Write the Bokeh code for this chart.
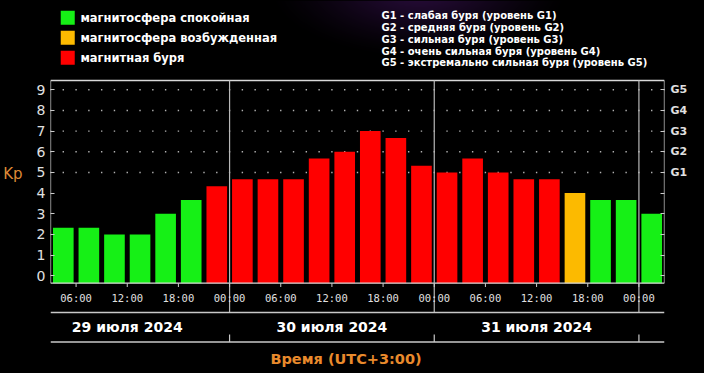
import numpy as np
from bokeh.plotting import figure
from bokeh.models import Range1d, LinearAxis, FixedTicker
from bokeh.core.properties import value
from bokeh.embed import file_html
from bokeh.resources import INLINE

# ---------------- data ----------------
# Kp values for 3-hour intervals, start 29 Jul 03:00 (hours since 29 Jul 00:00)
kp_start_hours = [3, 6, 9, 12, 15, 18, 21,
                  24, 27, 30, 33, 36, 39, 42, 45,
                  48, 51, 54, 57, 60, 63, 66, 69,
                  72]
kp_values = [2.33, 2.33, 2.0, 2.0, 3.0, 3.67, 4.33,
             4.67, 4.67, 4.67, 5.67, 6.0, 7.0, 6.67, 5.33,
             5.0, 5.67, 5.0, 4.67, 4.67, 4.0, 3.67, 3.67,
             3.0]
kp_status = ["quiet", "quiet", "quiet", "quiet", "quiet", "quiet", "storm",
             "storm", "storm", "storm", "storm", "storm", "storm", "storm", "storm",
             "storm", "storm", "storm", "storm", "storm", "active", "quiet", "quiet",
             "quiet"]
status_keys = ["quiet", "active", "storm"]
status_labels = ["магнитосфера спокойная", "магнитосфера возбужденная", "магнитная буря"]
status_colors = ["#16f016", "#fcba00", "#ff0000"]

time_ticks = [6, 12, 18, 24, 30, 36, 42, 48, 54, 60, 66, 72]
time_labels = ["06:00", "12:00", "18:00", "00:00", "06:00", "12:00", "18:00",
               "00:00", "06:00", "12:00", "18:00", "00:00"]
day_bounds = [24, 48, 72]
day_label_hours = [12, 36, 60]
day_labels = ["29 июля 2024", "30 июля 2024", "31 июля 2024"]

kp_ticks = list(range(10))
g_levels = [5, 6, 7, 8, 9]
g_labels = ["G1", "G2", "G3", "G4", "G5"]
g_descr = ["G1 - слабая буря (уровень G1)",
           "G2 - средняя буря (уровень G2)",
           "G3 - сильная буря (уровень G3)",
           "G4 - очень сильная буря (уровень G4)",
           "G5 - экстремально сильная буря (уровень G5)"]
y_title = "Kp"
x_title = "Время (UTC+3:00)"

# ---------------- geometry helpers (page pixels -> data) ----------------
W, H = 704, 373
BL, BR = 48, 40
X_START, X_END = 3, 75
PX_PER_H = (W - BL - BR) / (X_END - X_START)
Y0_PAGE = 283.3
PX_PER_KP = 20.67


def ydata(page_y):
    return (Y0_PAGE - page_y) / PX_PER_KP


def xdata(page_x):
    return X_START + (page_x - (8 + BL)) / PX_PER_H


p = figure(width=W, height=H, output_backend="svg", toolbar_location=None,
           x_range=Range1d(X_START, X_END),
           y_range=Range1d(ydata(381), ydata(8)),
           min_border_left=BL, min_border_right=BR,
           min_border_top=0, min_border_bottom=0,
           background_fill_color="black", border_fill_color="black",
           outline_line_color=None, x_axis_type=None, y_axis_type=None)
p.styles = {"background-color": "black"}
p.grid.visible = False

# purple haze in the background (decorative)
gx_px = np.arange(250, 620)
gy_px = np.arange(8, 100)
XX, YY = np.meshgrid(gx_px, gy_px)
d = np.sqrt(((XX - 425) / 150.0) ** 2 + ((YY + 5) / 70.0) ** 2)
a = np.clip(1 - d, 0, 1) ** 1.3
img = np.zeros(XX.shape, dtype=np.uint32)
view = img.view(dtype=np.uint8).reshape(XX.shape + (4,))
view[..., 0] = 45
view[..., 1] = 13
view[..., 2] = 66
view[..., 3] = (a * 255).astype(np.uint8)
img = img[::-1]
p.image_rgba(image=[img], x=xdata(250), y=ydata(100), dw=xdata(620) - xdata(250),
             dh=ydata(8) - ydata(100))

# axes
left = LinearAxis(ticker=FixedTicker(ticks=kp_ticks))
right = LinearAxis(ticker=FixedTicker(ticks=kp_ticks),
                   major_label_overrides={**{t: "" for t in kp_ticks},
                                          **{l: g for l, g in zip(g_levels, g_labels)}})
kp_pos = ydata(181)
kp_axis = LinearAxis(ticker=FixedTicker(ticks=[kp_pos]),
                     major_label_overrides={kp_pos: y_title})
for ax in (left, right, kp_axis):
    ax.axis_line_color = None
    ax.major_tick_in = 4
    ax.major_tick_out = 0
    ax.major_tick_line_color = "#cccccc"
    ax.minor_tick_line_color = None
    ax.major_label_text_color = "#e0e0e0"
    ax.major_label_text_font = "DejaVu Sans"
left.major_label_text_font_size = "14px"
left.major_label_standoff = 5
right.major_label_text_font_size = "11px"
right.major_label_text_font_style = "bold"
right.major_label_standoff = 6
kp_axis.major_tick_line_color = None
kp_axis.major_tick_in = 0
kp_axis.major_label_text_color = "#de8a36"
kp_axis.major_label_text_font_size = "15px"
kp_axis.major_label_standoff = 11
p.add_layout(left, "left")
p.add_layout(kp_axis, "left")
p.add_layout(right, "right")

y_top = ydata(88)
y_bot = ydata(290.7)

# dotted grid at storm levels
gx, gy = np.meshgrid(np.arange(X_START, X_END + 0.01, 1.5), g_levels)
p.scatter(gx.ravel(), gy.ravel(), marker="square", size=1.4,
          color="#b0b0b0", line_color=None)

# bars
cmap = dict(zip(status_keys, status_colors))
centers = [h + 1.5 for h in kp_start_hours]
p.vbar(x=centers, width=2.42, bottom=y_bot, top=kp_values,
       fill_color=[cmap[s] for s in kp_status], line_color=None)

# frame lines
p.segment(x0=[X_START, X_START, X_END, X_START], y0=[y_bot, y_top, y_bot, y_bot],
          x1=[X_START, X_END, X_END, X_END], y1=[y_top, y_top, y_top, y_bot],
          line_color="#d8d8d8", line_width=1.3)
# day separators
p.segment(x0=day_bounds, y0=[y_top] * 3, x1=day_bounds, y1=[ydata(320)] * 3,
          line_color="#b8b8b8", line_width=1.2)
# time ticks
p.segment(x0=time_ticks, y0=[y_bot] * len(time_ticks), x1=time_ticks,
          y1=[ydata(294.5)] * len(time_ticks), line_color="#cccccc", line_width=1)
# lower lines
p.segment(x0=[X_START, X_START], y0=[ydata(320), ydata(349.5)],
          x1=[X_END, X_END], y1=[ydata(320), ydata(349.5)],
          line_color="#c8c8c8", line_width=1.3)
p.segment(x0=day_bounds, y0=[ydata(342)] * 3, x1=day_bounds, y1=[ydata(349.5)] * 3,
          line_color="#c8c8c8", line_width=1.2)

# time labels
p.text(x=time_ticks, y=[ydata(305)] * len(time_ticks), text=time_labels,
       text_font=value("DejaVu Sans Mono"), text_font_size="10.5px",
       text_color="#e0e0e0", text_align="center", text_baseline="middle")
# day labels
p.text(x=day_label_hours, y=[ydata(334)] * 3, text=day_labels,
       text_font=value("DejaVu Sans"), text_font_size="14px", text_font_style="bold",
       text_color="white", text_align="center", text_baseline="middle")
# x title
p.text(x=[xdata(352.5)], y=[ydata(366)], text=[x_title],
       text_font=value("DejaVu Sans"), text_font_size="14.5px", text_font_style="bold",
       text_color="#e98a2c", text_align="center", text_baseline="middle")

# legend (status)
leg_y = [ydata(25.3), ydata(45.3), ydata(65.2)]
p.rect(x=[xdata(73.3)] * 3, y=leg_y, width=14, height=14,
       width_units="screen", height_units="screen",
       fill_color=status_colors, line_color=None)
p.text(x=[xdata(86)] * 3, y=leg_y, text=status_labels,
       text_font=value("DejaVu Sans"), text_font_size="11.5px", text_font_style="bold",
       text_color="white", text_align="left", text_baseline="middle")
# legend (G levels)
p.text(x=[xdata(388)] * 5, y=[ydata(23.3 + 11.75 * i) for i in range(5)], text=g_descr,
       text_font=value("DejaVu Sans"), text_font_size="10px", text_font_style="bold",
       text_color="white", text_align="left", text_baseline="middle")

open("out.html", "w").write(file_html(p, INLINE))
